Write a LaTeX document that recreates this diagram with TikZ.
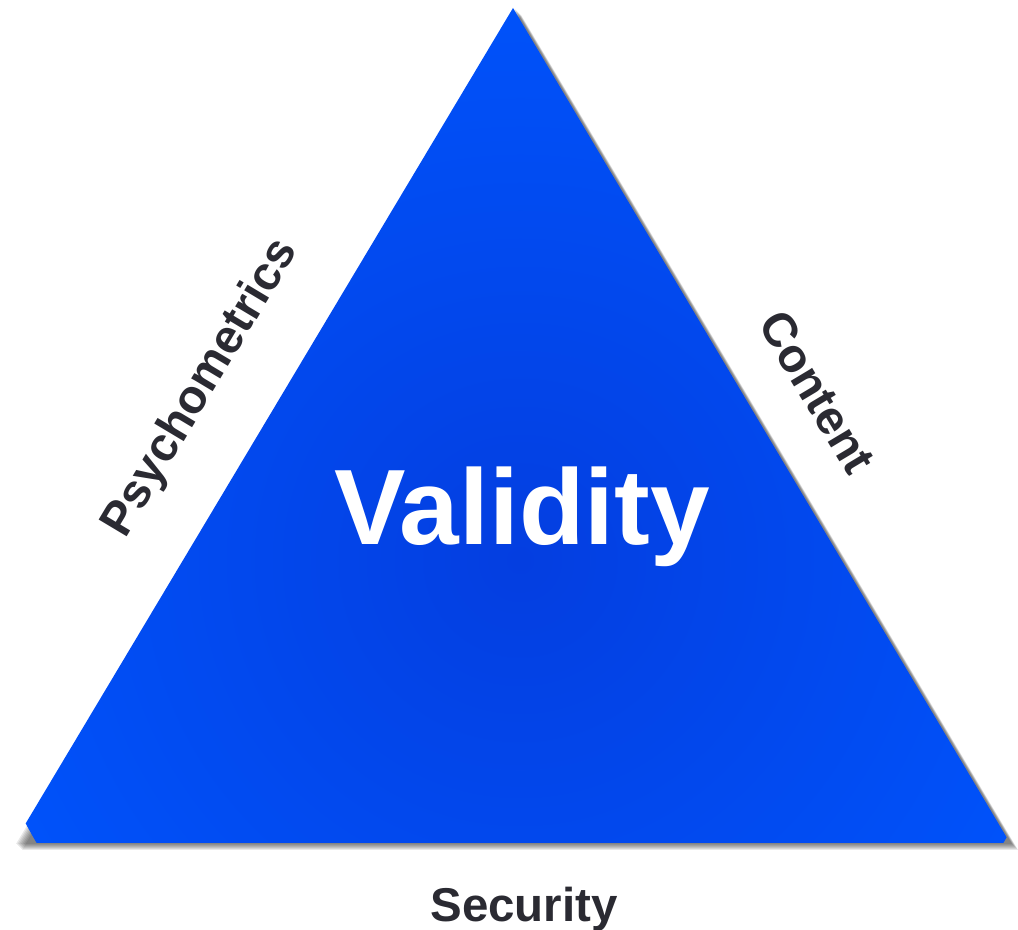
\documentclass[tikz,border=0pt]{standalone}
\usepackage{fontspec}
\setmainfont{Liberation Sans}
\usetikzlibrary{calc}
\definecolor{valblue}{RGB}{0,82,250}
\definecolor{valdark}{RGB}{4,62,224}
\definecolor{labelgray}{RGB}{42,42,50}
\tikzset{
  side label/.style={font=\bfseries\fontsize{27}{30}\selectfont, text=labelgray, inner sep=0pt},
}
\begin{document}
\begin{tikzpicture}[x=0.02cm, y=0.02cm]
  \useasboundingbox (0,0) rectangle (1018,930);
  \coordinate (top) at (513,922);
  \coordinate (left) at (14,87);
  \coordinate (right) at (1010,87);

  % soft shadow
  \foreach \s in {1,...,7}
    \fill[black, opacity=.09] ([shift={(\s+1,-\s)}]top) -- ([shift={(\s+1,-\s)}]left) -- ([shift={(\s+1,-\s)}]right) -- cycle;

  \begin{scope}
    \clip (top) -- (left) -- (right) -- cycle;
    \shade[inner color=valdark, outer color=valblue] (520,370) circle (560);
  \end{scope}

  \node[font=\bfseries\fontsize{61}{70}\selectfont, text=white, inner sep=0pt, anchor=base] (validity) at (522,385) {Validity};
  \node[side label, rotate=59.1] (psy) at ($(left)!0.5!(top)!1.45cm!90:(top)$) {Psychometrics};
  \node[side label, rotate=-59.1] (content) at ($(right)!0.5!(top)!1.3cm!-90:(top)$) {Content};
  \node[side label, anchor=base] (security) at (524,9) {Security};
\end{tikzpicture}
\end{document}
